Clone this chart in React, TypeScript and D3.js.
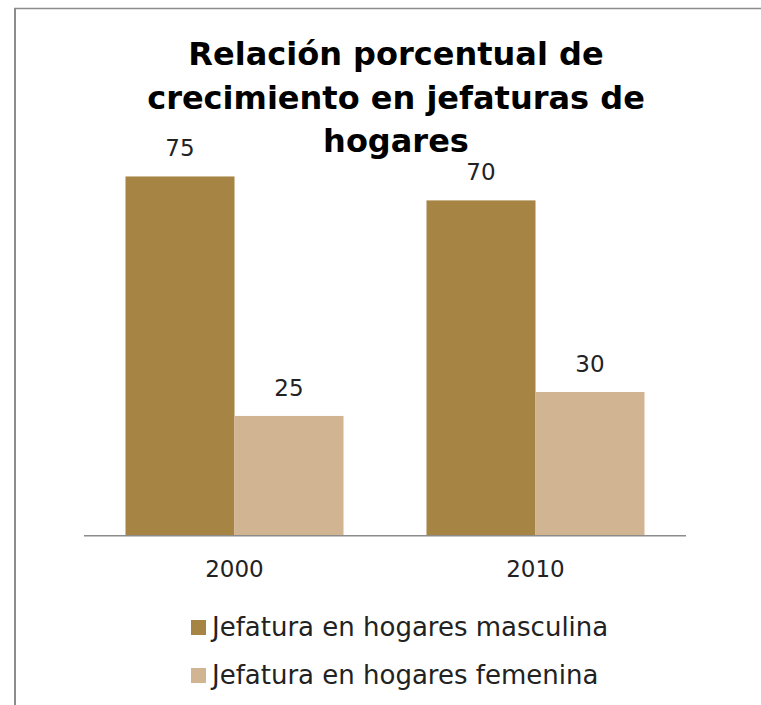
import React from "react";
import * as d3 from "d3";

const categories = ["2000", "2010"];
const seriesNames = ["Jefatura en hogares masculina", "Jefatura en hogares femenina"];
const masculina = [75, 70];
const femenina = [25, 30];
const titleLines = ["Relación porcentual de", "crecimiento en jefaturas de", "hogares"];

const colors = ["#A68444", "#D1B592"];

export default function App() {
  const W = 761, H = 705;
  const baseY = 535.7;
  const x0 = d3.scaleBand<string>().domain(categories).range([84, 686]).paddingInner(0).paddingOuter(0);
  const x1 = d3.scaleBand<number>().domain([0, 1]).range([0, x0.bandwidth()]).paddingInner(0).paddingOuter(0.3807);
  const y = d3.scaleLinear().domain([0, 80]).range([baseY, baseY - 80 * 4.79]);
  const series = [masculina, femenina];
  const font = "'DejaVu Sans', sans-serif";

  return (
    <svg width={W} height={H} style={{ position: "absolute", left: 0, top: 0 }}>
      <rect x={0} y={0} width={W} height={H} fill="#fff" />
      <line x1={15} y1={8} x2={15} y2={H} stroke="#8c8c8c" strokeWidth={2} />
      <line x1={14} y1={8.5} x2={W} y2={8.5} stroke="#8c8c8c" strokeWidth={1.5} />
      {series.map((vals, si) =>
        categories.map((c, ci) => (
          <rect
            key={`${si}-${ci}`}
            x={(x0(c) as number) + (x1(si) as number)}
            y={y(vals[ci])}
            width={x1.bandwidth()}
            height={baseY - y(vals[ci])}
            fill={colors[si]}
          />
        ))
      )}
      <line x1={84} x2={686} y1={baseY} y2={baseY} stroke="#8c8c8c" strokeWidth={1.5} />
      {series.map((vals, si) =>
        categories.map((c, ci) => (
          <text
            key={`l${si}-${ci}`}
            x={(x0(c) as number) + (x1(si) as number) + x1.bandwidth() / 2}
            y={y(vals[ci]) - 20}
            textAnchor="middle"
            fontFamily={font}
            fontSize={23}
            fill="#222"
          >
            {vals[ci]}
          </text>
        ))
      )}
      {categories.map((c) => (
        <text
          key={c}
          x={(x0(c) as number) + x0.bandwidth() / 2}
          y={577}
          textAnchor="middle"
          fontFamily={font}
          fontSize={23}
          fill="#222"
        >
          {c}
        </text>
      ))}
      {titleLines.map((t, i) => (
        <text
          key={t}
          x={396}
          y={65 + i * 43.5}
          textAnchor="middle"
          fontFamily={font}
          fontWeight="bold"
          fontSize={32}
          fill="#000"
        >
          {t}
        </text>
      ))}
      {seriesNames.map((n, i) => (
        <g key={n} transform={`translate(191, ${620 + i * 48})`}>
          <rect x={0} y={0} width={15} height={15} fill={colors[i]} />
          <text x={21} y={16} fontFamily={font} fontSize={26} fill="#222">
            {n}
          </text>
        </g>
      ))}
    </svg>
  );
}
